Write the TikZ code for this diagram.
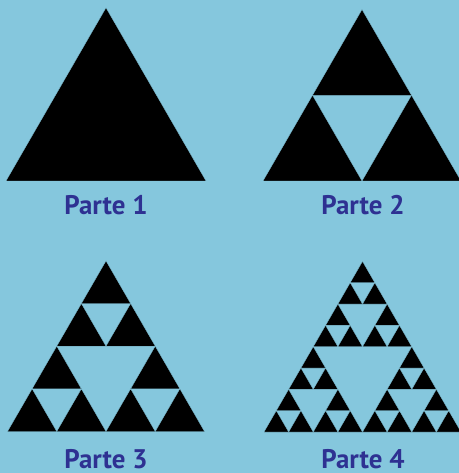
\documentclass[tikz,border=0pt]{standalone}
\usepackage{fontspec}
\setmainfont{PT Sans}
\definecolor{sky}{HTML}{85C7DD}
\definecolor{inkblue}{HTML}{2E3192}
% sierpinski triangle: level, base-left x, base-left y, side (pixels, y downwards)
\def\sierp#1#2#3#4{%
  \ifnum#1=0
    \fill[piece] (#2,#3) -- ({#2+#4},#3) -- ({#2+#4/2},{#3-0.866*#4}) -- cycle;
  \else
    \begingroup
    \edef\sL{#1}\edef\sX{#2}\edef\sY{#3}\edef\sS{#4}%
    \pgfmathtruncatemacro\lv{\sL-1}%
    \pgfmathsetmacro\hs{\sS/2}%
    \pgfmathsetmacro\rx{\sX+\sS/2}%
    \pgfmathsetmacro\tx{\sX+\sS/4}%
    \pgfmathsetmacro\ty{\sY-0.433*\sS}%
    \sierp{\lv}{\sX}{\sY}{\hs}%
    \sierp{\lv}{\rx}{\sY}{\hs}%
    \sierp{\lv}{\tx}{\ty}{\hs}%
    \endgroup
  \fi}

\begin{document}
\begin{tikzpicture}[x=1bp,y=-1bp,
  piece/.style={fill=black,draw=sky,line width=0.3bp},
  caption/.style={anchor=base,text=inkblue,font=\bfseries\fontsize{27}{30}\selectfont}]
  \fill[sky] (0,0) rectangle (459,473);
  \useasboundingbox (0,0) rectangle (459,473);
  \sierp{0}{6}{181}{200}
  \sierp{1}{263}{181}{198}
  \sierp{2}{7.5}{431.5}{197}
  \sierp{3}{264}{432}{197}
  \node[caption] (p1) at (106,215) {Parte 1};
  \node[caption] (p2) at (363,215) {Parte 2};
  \node[caption] (p3) at (106,468) {Parte 3};
  \node[caption] (p4) at (363,468) {Parte 4};
\end{tikzpicture}
\end{document}
